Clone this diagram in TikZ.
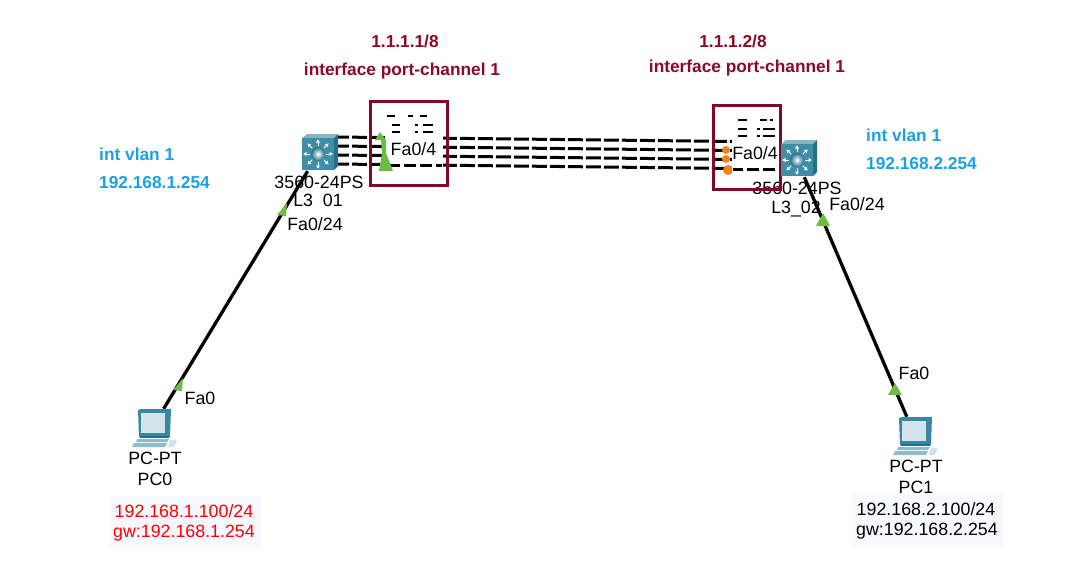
\documentclass[tikz,border=0pt]{standalone}
\usepackage{fontspec}
\setmainfont{Liberation Sans}
\usetikzlibrary{arrows.meta}
\definecolor{boxred}{HTML}{7F0A25}
\definecolor{labelred}{HTML}{8B0A28}
\definecolor{textblue}{HTML}{1BA1E2}
\definecolor{portgreen}{HTML}{6CBB45}
\definecolor{portorange}{HTML}{F57F17}
\definecolor{notebg}{HTML}{F8F8FF}
\definecolor{cubefront}{HTML}{3F8DA6}
\definecolor{cubetop}{HTML}{86B5C4}
\definecolor{cubeside}{HTML}{23708A}
\definecolor{pcdark}{HTML}{3A87A0}
\definecolor{pclight}{HTML}{8FBBCB}
\definecolor{pcscreen}{HTML}{D3E3EB}
\tikzset{
	pics/l3switch/.style={code={
		\fill[cubetop] (-16,-16) -- (-11,-20) -- (20,-20) -- (16,-16) -- cycle;
		\fill[cubeside] (16,-16) -- (20,-20) -- (20,12) -- (16,16) -- cycle;
		\fill[cubefront] (-16,-16) rectangle (16,16);
		\foreach \a in {0,45,...,315}
			\draw[white,line width=1pt,-{Latex[length=3.5pt,width=4.5pt]}] (\a:8) -- (\a:15);
		\shade[inner color=white,outer color=cubeside] (0,0) circle (7);
	}},
	pics/pcpt/.style={code={
		\fill[pcdark] (-14,-18) -- (-11,-19) -- (19,-19) -- (18,9) -- (-13,9) -- cycle;
		\fill[pcscreen] (-11,-15) rectangle (13,5);
		\fill[cubeside] (-12,8) rectangle (17,10);
		\fill[pclight] (-15,11) -- (17,11) -- (15,14) -- (-16,14) -- cycle;
		\fill[pclight] (-18,15) -- (15,15) -- (13,19) -- (-20,19) -- cycle;
		\fill[pcscreen] (18,12) -- (25,12) -- (22,19) -- (16,19) -- cycle;
	}}
}
\begin{document}
\begin{tikzpicture}[x=1pt,y=-1pt,
	every node/.style={font=\fontsize{17.8}{20}\selectfont,inner sep=0pt},
	devnode/.style={minimum width=34pt,minimum height=34pt},
	link/.style={line width=3.3pt,black},
	bundle/.style={line width=3pt,black,dash pattern=on 15pt off 3pt,dash phase=2pt},
	bluetxt/.style={font=\fontsize{17.3}{20}\selectfont\bfseries,text=textblue,anchor=west},
	redtxt/.style={font=\fontsize{17.3}{20}\selectfont\bfseries,text=labelred},
	notebox/.style={fill=notebg,minimum width=151pt,minimum height=52pt},
	portbox/.style={draw=boxred,line width=3pt},
	cutout/.style={fill=white},
	triup/.style={fill=portgreen},
	bit/.style={line width=1.5pt,black}]

	\useasboundingbox (0,0) rectangle (1068,586);

	\node[devnode] (sw1) at (318,154) {};
	\node[devnode] (sw2) at (797,160) {};
	\node[devnode,minimum height=38pt,minimum width=42pt] (pc0) at (152,428) {};
	\node[devnode,minimum height=38pt,minimum width=42pt] (pc1) at (915,436) {};

	% device names under the icons
	\node (sw1type) at (319,182) {3560-24PS};
	\node (sw1name) at (318,202) {L3\_01};
	\node[cutout,minimum height=35pt] (sw1port) at (315,224) {Fa0/24};
	\node (sw2type) at (797,188) {3560-24PS};
	\node (sw2name) at (796,209) {L3\_02};
	\node (sw2port) at (857,204) {Fa0/24};

	% port channel members
	\foreach \i/\ya/\yb in {1/137/142,2/146/151,3/155/160,4/164/169} {
		\coordinate (a\i) at (336,\ya);
		\coordinate (b\i) at (782,\yb);
		\draw[bundle] (a\i) -- (b\i);
	}

	\fill[portorange] (726,150) circle (4) (726,159) circle (4) (728,170) circle (5);
	\node[cutout,minimum width=57pt,minimum height=52pt] (cut1) at (414.5,136) {};
	\node[cutout,minimum width=48pt,minimum height=58pt] (cut2) at (756,136) {};
	\node[cutout,minimum width=57pt,minimum height=6pt] (cut3) at (414.5,165) {};
	\node[cutout,minimum width=48pt,minimum height=6pt] (cut4) at (756,169) {};
	\coordinate (c1) at (390,165);
	\coordinate (c2) at (442,165);
	\coordinate (d1) at (733,169);
	\coordinate (d2) at (780,169);
	\draw[bundle,dash pattern=on 12pt off 4pt] (c1) -- (c2);
	\draw[bundle,dash pattern=on 12pt off 4pt] (d1) -- (d2);

	% leftovers of the stacked port names
	\foreach \x/\y/\w in {387/116/8,408/116/5,420/116/7,392/125/8,415/125/3,423/125/10,392/132/8,415/132/3,423/132/10} {
		\draw[bit] (\x,\y) -- ++(\w,0);
	}
	\foreach \x/\y/\w in {738/120/9,760/120/7,770/120/3,738/129/9,757/129/3,763/129/12,738/136/9,757/136/3,763/136/12} {
		\draw[bit] (\x,\y) -- ++(\w,0);
	}
	\node (fa1) at (413.5,149) {Fa0/4};
	\node (fa2) at (755,153) {Fa0/4};

	\fill[triup] (380,132) -- (386,140) -- (386,153) -- (393,171) -- (379,171) -- (382,153) -- (381,140) -- (375,140) -- cycle;

	\draw[portbox] (370,101) rectangle (447,185);
	\draw[portbox] (713,105) rectangle (780,189);

	% access links
	\draw[link] (sw1) -- (pc0);
	\draw[link] (sw2) -- (pc1);
	\fill[triup] (287,203) -- (286,216) -- (277,215) -- cycle;
	\fill[triup] (183,378) -- (182,391) -- (173,390) -- cycle;
	\fill[triup] (823,213) -- (830,226) -- (816,226) -- cycle;
	\fill[triup] (895,383) -- (902,395) -- (888,395) -- cycle;

	\pic at (sw1) {l3switch};
	\pic at (sw2) {l3switch};
	\pic at (pc0) {pcpt};
	\pic[xshift=-2pt] at (pc1) {pcpt};

	\node (pc0port) at (200,398) {Fa0};
	\node (pc1port) at (914,373) {Fa0};
	\node (pc0type) at (155,458) {PC-PT};
	\node (pc0name) at (155,479) {PC0};
	\node (pc1type) at (916,466) {PC-PT};
	\node (pc1name) at (916,487) {PC1};

	\node[notebox] (pc0ip) at (185.5,522) {};
	\node[text=red] (pc0addr) at (184,511) {192.168.1.100/24};
	\node[text=red] (pc0gw) at (184,533) {gw:192.168.1.254};
	\node[notebox] (pc1ip) at (927.5,520) {};
	\node (pc1addr) at (926,509) {192.168.2.100/24};
	\node (pc1gw) at (927,531) {gw:192.168.2.254};

	\node[redtxt] (ip1) at (405,41) {1.1.1.1/8};
	\node[redtxt] (pc1lbl) at (402,71.5) {interface port-channel 1};
	\node[redtxt] (ip2) at (733,41) {1.1.1.2/8};
	\node[redtxt] (pc2lbl) at (747,68.5) {interface port-channel 1};

	\node[bluetxt] (vl1) at (99,154) {int vlan 1};
	\node[bluetxt] (gw1) at (99,183) {192.168.1.254};
	\node[bluetxt] (vl2) at (866,135) {int vlan 1};
	\node[bluetxt] (gw2) at (866,164) {192.168.2.254};
\end{tikzpicture}
\end{document}
